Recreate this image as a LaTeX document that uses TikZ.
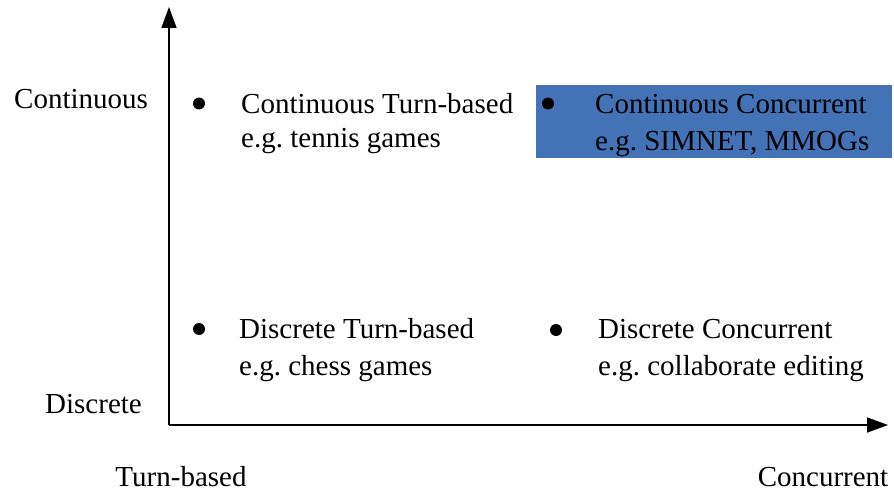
\documentclass[tikz,border=0pt]{standalone}
\usepackage{fontspec}
\setmainfont{Liberation Serif}
\usetikzlibrary{arrows.meta}
\frenchspacing
\definecolor{cellblue}{RGB}{68,114,183}
\tikzset{
  axisline/.style={line width=1.6pt, -{Triangle[length=21pt,width=15pt]}},
  txt/.style={anchor=base west, inner sep=0pt, font=\fontsize{29}{34}\selectfont},
  axlabel/.style={anchor=base, inner sep=0pt, font=\fontsize{29}{34}\selectfont},
  dot/.style={circle, fill=black, inner sep=0pt, minimum size=12pt},
}
\begin{document}
\begin{tikzpicture}[x=1pt,y=-1pt]
\useasboundingbox (0,0) rectangle (894,492);

% highlighted quadrant
\fill[cellblue] (536,85) rectangle (892,158);

% axes
\coordinate (origin) at (169,425);
\coordinate (ytip) at (169,7);
\coordinate (xtip) at (888,425);
\draw[axisline] (origin) -- (ytip);
\draw[axisline] (origin) -- (xtip);

% axis labels
\node[txt] (lcont) at (14,108.5) {Continuous};
\node[txt] (ldisc) at (45,413.5) {Discrete};
\node[axlabel] (lturn) at (181,486) {Turn-based};
\node[axlabel] (lconc) at (823,486) {Concurrent};

% quadrant entries
\node[dot] (b1) at (199,103.5) {};
\node[txt] (t1a) at (241,113.5) {Continuous Turn-based};
\node[txt] (t1b) at (241,148) {e.g. tennis games};

\node[dot] (b2) at (548,103.5) {};
\node[txt] (t2a) at (595,113.5) {Continuous Concurrent};
\node[txt] (t2b) at (595,150) {e.g. SIMNET, MMOGs};

\node[dot] (b3) at (199,329) {};
\node[txt] (t3a) at (239,338.5) {Discrete Turn-based};
\node[txt] (t3b) at (239,375) {e.g. chess games};

\node[dot] (b4) at (556,330) {};
\node[txt] (t4a) at (598,338.5) {Discrete Concurrent};
\node[txt] (t4b) at (598,375) {e.g. collaborate editing};
\end{tikzpicture}
\end{document}
